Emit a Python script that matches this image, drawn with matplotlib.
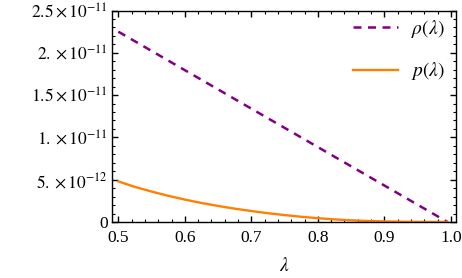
import matplotlib
matplotlib.use("Agg")
import matplotlib.pyplot as plt
import numpy as np

plt.rcParams['font.family'] = ['Liberation Serif', 'DejaVu Serif']
plt.rcParams['mathtext.fontset'] = 'stix'

# Data
lam_rho = [0.5, 0.6, 0.7, 0.8, 0.9, 0.995]
rho = [2.25e-11, 1.795e-11, 1.34e-11, 0.886e-11, 0.432e-11, 0.0]

lam_p = [0.5, 0.525, 0.55, 0.575, 0.6, 0.625, 0.65, 0.675, 0.7, 0.725, 0.75,
         0.775, 0.8, 0.825, 0.85, 0.875, 0.9, 0.925, 0.95, 0.975, 0.995]
p = [4.8e-12, 4.15e-12, 3.6e-12, 3.1e-12, 2.65e-12, 2.25e-12, 1.9e-12, 1.58e-12,
     1.3e-12, 1.04e-12, 0.82e-12, 0.62e-12, 0.45e-12, 0.31e-12, 0.2e-12,
     0.12e-12, 0.07e-12, 0.035e-12, 0.012e-12, 0.002e-12, 0.0]

xticks = [0.5, 0.6, 0.7, 0.8, 0.9, 1.0]
xticklabels = ["0.5", "0.6", "0.7", "0.8", "0.9", "1.0"]
yticks = [0, 5e-12, 1e-11, 1.5e-11, 2e-11, 2.5e-11]
yticklabels = ["0", r"$5.\times10^{-12}$", r"$1.\times10^{-11}$",
               r"$1.5\times10^{-11}$", r"$2.\times10^{-11}$", r"$2.5\times10^{-11}$"]

purple = "#800080"
orange = "#FF8000"

fig = plt.figure(figsize=(4.62, 2.78), dpi=100)
ax = fig.add_axes([0.2424, 0.2014, 0.7446, 0.7608])

ax.plot(lam_rho, rho, color=purple, lw=1.8, ls=(0, (3.2, 2.6)), label=r"$\rho(\lambda)$")
ax.plot(lam_p, p, color=orange, lw=1.7, label=r"$p(\lambda)$")

ax.set_xlim(0.4905, 1.0078)
ax.set_ylim(0, 2.5e-11)

ax.set_xticks(xticks)
ax.set_xticklabels(xticklabels)
ax.set_yticks(yticks)
ax.set_yticklabels(yticklabels)
ax.set_xticks(np.arange(0.5, 1.0001, 0.02), minor=True)
ax.set_yticks(np.arange(0, 2.5001e-11, 1e-12), minor=True)

ax.tick_params(which='both', direction='in', top=True, right=True, labelsize=12.5,
               colors='black')
ax.tick_params(axis='x', which='both', pad=6)
ax.tick_params(axis='y', which='both', pad=3)
ax.tick_params(which='major', length=4, width=1)
ax.tick_params(which='minor', length=2, width=0.8)
for s in ax.spines.values():
    s.set_linewidth(1.0)
    s.set_color('black')

ax.set_xlabel(r"$\lambda$", fontsize=14, labelpad=8)

ax.legend(loc='upper left', bbox_to_anchor=(0.70, 0.965), frameon=False,
          fontsize=14, handlelength=2.3, handletextpad=0.7, labelspacing=1.05,
          borderpad=0, borderaxespad=0)

fig.savefig("out.png", dpi=100)
